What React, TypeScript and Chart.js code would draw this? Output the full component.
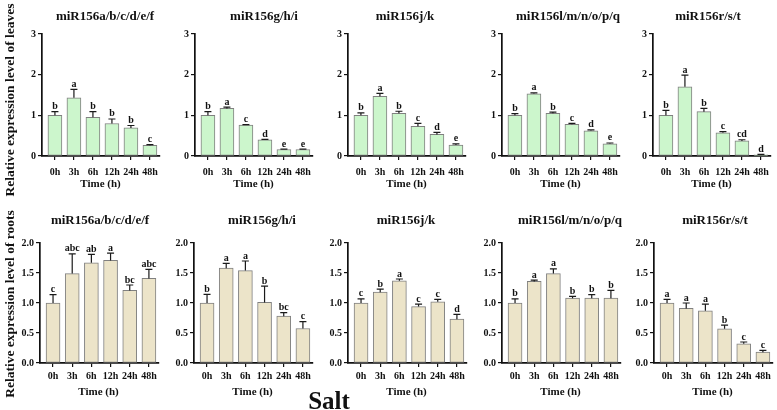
import React, { useEffect, useRef } from "react";
import { Chart, registerables } from "chart.js";

Chart.register(...registerables);

// ---------- data ----------
const timeLabels = ["0h", "3h", "6h", "12h", "24h", "48h"];
const panelTitles = ["miR156a/b/c/d/e/f", "miR156g/h/i", "miR156j/k", "miR156l/m/n/o/p/q", "miR156r/s/t"];

// leaves
const leafMeanAF = [1.0, 1.43, 0.95, 0.8, 0.69, 0.26];
const leafSdAF = [0.09, 0.21, 0.14, 0.11, 0.06, 0.02];
const leafSigAF = ["b", "a", "b", "b", "b", "c"];

const leafMeanGI = [1.0, 1.17, 0.76, 0.4, 0.16, 0.16];
const leafSdGI = [0.09, 0.03, 0.01, 0.01, 0.01, 0.01];
const leafSigGI = ["b", "a", "c", "d", "e", "e"];

const leafMeanJK = [1.0, 1.47, 1.05, 0.73, 0.53, 0.27];
const leafSdJK = [0.06, 0.07, 0.05, 0.07, 0.05, 0.03];
const leafSigJK = ["b", "a", "b", "c", "d", "e"];

const leafMeanLQ = [1.0, 1.53, 1.05, 0.78, 0.62, 0.3];
const leafSdLQ = [0.04, 0.02, 0.03, 0.02, 0.02, 0.02];
const leafSigLQ = ["b", "a", "b", "c", "d", "e"];

const leafMeanRT = [1.0, 1.7, 1.09, 0.57, 0.37, 0.03];
const leafSdRT = [0.12, 0.29, 0.08, 0.03, 0.03, 0.01];
const leafSigRT = ["b", "a", "b", "c", "cd", "d"];

// roots
const rootMeanAF = [1.0, 1.49, 1.67, 1.71, 1.21, 1.41];
const rootSdAF = [0.14, 0.33, 0.14, 0.12, 0.09, 0.15];
const rootSigAF = ["c", "abc", "ab", "a", "bc", "abc"];

const rootMeanGI = [1.0, 1.58, 1.54, 1.01, 0.78, 0.575];
const rootSdGI = [0.145, 0.08, 0.16, 0.27, 0.06, 0.115];
const rootSigGI = ["b", "a", "a", "b", "bc", "c"];

const rootMeanJK = [1.0, 1.18, 1.37, 0.94, 1.02, 0.73];
const rootSdJK = [0.07, 0.05, 0.03, 0.04, 0.04, 0.08];
const rootSigJK = ["c", "b", "a", "c", "c", "d"];

const rootMeanLQ = [1.0, 1.36, 1.49, 1.08, 1.08, 1.08];
const rootSdLQ = [0.07, 0.02, 0.08, 0.03, 0.06, 0.13];
const rootSigLQ = ["b", "a", "a", "b", "b", "b"];

const rootMeanRT = [1.0, 0.91, 0.87, 0.57, 0.32, 0.18];
const rootSdRT = [0.06, 0.09, 0.11, 0.06, 0.03, 0.03];
const rootSigRT = ["a", "a", "a", "b", "c", "c"];

const leafTicks = { max: 3, step: 1, decimals: 0 };
const rootTicks = { max: 2, step: 0.5, decimals: 1 };

// ---------- layout ----------
const FONT = '"Liberation Serif", "Times New Roman", serif';
const Y_AXIS_W = 30;
const PLOT_W = 118.5;
const CANVAS_W = 152;

type PanelProps = {
  title: string;
  means: number[];
  sds: number[];
  sig: string[];
  yMax: number;
  yStep: number;
  decimals: number;
  color: string;
  left: number;
  top: number;
  height: number;
  padTop: number;
  xHeight: number;
  xPad: number;
  titleY: number;
  titleDx: number;
  timeY: number;
};

function Panel(p: PanelProps) {
  const ref = useRef<HTMLCanvasElement>(null);
  useEffect(() => {
    if (!ref.current) return;
    const annot = {
      id: "annot",
      afterDatasetsDraw(chart: any) {
        const ctx = chart.ctx;
        const ys = chart.scales.y;
        const meta = chart.getDatasetMeta(0);
        ctx.save();
        ctx.strokeStyle = "#1a1a1a";
        ctx.lineWidth = 1.2;
        ctx.fillStyle = "#111";
        meta.data.forEach((bar: any, i: number) => {
          const base = ys.getPixelForValue(p.means[i]);
          const top = ys.getPixelForValue(p.means[i] + p.sds[i]);
          ctx.beginPath();
          ctx.moveTo(bar.x, base);
          ctx.lineTo(bar.x, top);
          ctx.moveTo(bar.x - 3.5, top);
          ctx.lineTo(bar.x + 3.5, top);
          ctx.stroke();
          ctx.font = `bold 10px ${FONT}`;
          ctx.textAlign = "center";
          ctx.textBaseline = "alphabetic";
          ctx.fillText(p.sig[i], bar.x, top - 2.5);
        });
        ctx.textAlign = "center";
        ctx.textBaseline = "middle";
        ctx.font = `bold 13px ${FONT}`;
        ctx.fillText(p.title, chart.chartArea.left + p.titleDx, p.titleY);
        ctx.font = `bold 11px ${FONT}`;
        ctx.fillText("Time (h)", chart.chartArea.left + 58.5, p.timeY);
        ctx.restore();
      },
    };
    const chart = new Chart(ref.current, {
      type: "bar",
      data: {
        datasets: [
          {
            data: p.means.map((v, i) => ({ x: i, y: v })),
            backgroundColor: p.color,
            borderColor: "#808080",
            borderWidth: 1,
            borderSkipped: false,
            barThickness: 14,
          } as any,
        ],
      },
      options: {
        animation: false,
        responsive: false,
        devicePixelRatio: 1,
        layout: { padding: { top: p.padTop, left: 0, bottom: 0, right: CANVAS_W - Y_AXIS_W - PLOT_W } },
        plugins: { legend: { display: false }, tooltip: { enabled: false }, title: { display: false } },
        scales: {
          x: {
            type: "linear",
            offset: false,
            min: -0.68,
            max: 5.5,
            afterBuildTicks: (s: any) => {
              s.ticks = timeLabels.map((_, i) => ({ value: i }));
            },
            afterFit: (s: any) => {
              s.height = p.xHeight;
            },
            ticks: {
              callback: (v: any) => timeLabels[v] ?? "",
              font: { family: FONT, weight: "bold", size: 10 },
              color: "#111",
              padding: p.xPad,
              maxRotation: 0,
              autoSkip: false,
            },
            grid: { offset: false, drawOnChartArea: false, tickLength: 4, color: "#111", tickColor: "#111", lineWidth: 1.2 },
            border: { color: "#111", width: 1.7 },
          },
          y: {
            min: 0,
            max: p.yMax,
            afterFit: (s: any) => {
              s.width = Y_AXIS_W;
            },
            ticks: {
              stepSize: p.yStep,
              callback: (v: any) => Number(v).toFixed(p.decimals),
              font: { family: FONT, weight: "bold", size: 10 },
              color: "#111",
              padding: 2,
            },
            grid: { drawOnChartArea: false, tickLength: 4, color: "#111", tickColor: "#111", lineWidth: 1.2 },
            border: { color: "#111", width: 1.7 },
          },
        },
      } as any,
      plugins: [annot],
    });
    return () => chart.destroy();
  }, []);
  return (
    <canvas
      ref={ref}
      width={CANVAS_W}
      height={p.height}
      style={{ position: "absolute", left: p.left - Y_AXIS_W, top: p.top, width: CANVAS_W, height: p.height }}
    />
  );
}

const topAxisX = [41.5, 195, 348, 502, 653];
const bottomAxisX = [40, 194, 348, 502, 654];
const topTitleDx = [63, 69, 57, 66, 55];
const bottomTitleDx = [60, 68, 58, 68, 61];

export default function App() {
  const leaves = [
    [leafMeanAF, leafSdAF, leafSigAF],
    [leafMeanGI, leafSdGI, leafSigGI],
    [leafMeanJK, leafSdJK, leafSigJK],
    [leafMeanLQ, leafSdLQ, leafSigLQ],
    [leafMeanRT, leafSdRT, leafSigRT],
  ] as [number[], number[], string[]][];
  const roots = [
    [rootMeanAF, rootSdAF, rootSigAF],
    [rootMeanGI, rootSdGI, rootSigGI],
    [rootMeanJK, rootSdJK, rootSigJK],
    [rootMeanLQ, rootSdLQ, rootSigLQ],
    [rootMeanRT, rootSdRT, rootSigRT],
  ] as [number[], number[], string[]][];

  const sideLabel: React.CSSProperties = {
    position: "absolute",
    left: 10,
    transform: "translate(-50%, -50%) rotate(-90deg)",
    whiteSpace: "nowrap",
    fontFamily: FONT,
    fontWeight: "bold",
    fontSize: 13.5,
    color: "#111",
  };

  return (
    <div style={{ position: "fixed", left: 0, top: 0, width: 777, height: 410, background: "#fff", overflow: "hidden" }}>
      {leaves.map(([m, s, g], i) => (
        <Panel
          key={"l" + i}
          title={panelTitles[i]}
          means={m}
          sds={s}
          sig={g}
          yMax={leafTicks.max}
          yStep={leafTicks.step}
          decimals={leafTicks.decimals}
          color="#ccf6cc"
          left={topAxisX[i]}
          top={0}
          height={200}
          padTop={34}
          xHeight={44}
          xPad={6}
          titleY={17}
          titleDx={topTitleDx[i]}
          timeY={184}
        />
      ))}
      {roots.map(([m, s, g], i) => (
        <Panel
          key={"r" + i}
          title={panelTitles[i]}
          means={m}
          sds={s}
          sig={g}
          yMax={rootTicks.max}
          yStep={rootTicks.step}
          decimals={rootTicks.decimals}
          color="#ece4c9"
          left={bottomAxisX[i]}
          top={200}
          height={210}
          padTop={43}
          xHeight={47}
          xPad={3}
          titleY={21}
          titleDx={bottomTitleDx[i]}
          timeY={192}
        />
      ))}
      <div style={{ ...sideLabel, top: 100 }}>Relative expression level of leaves</div>
      <div style={{ ...sideLabel, top: 304 }}>Relative expression level of roots</div>
      <div
        style={{
          position: "absolute",
          left: 329,
          top: 401,
          transform: "translate(-50%, -50%)",
          fontFamily: FONT,
          fontWeight: "bold",
          fontSize: 25,
          color: "#111",
          whiteSpace: "nowrap",
        }}
      >
        Salt
      </div>
    </div>
  );
}
